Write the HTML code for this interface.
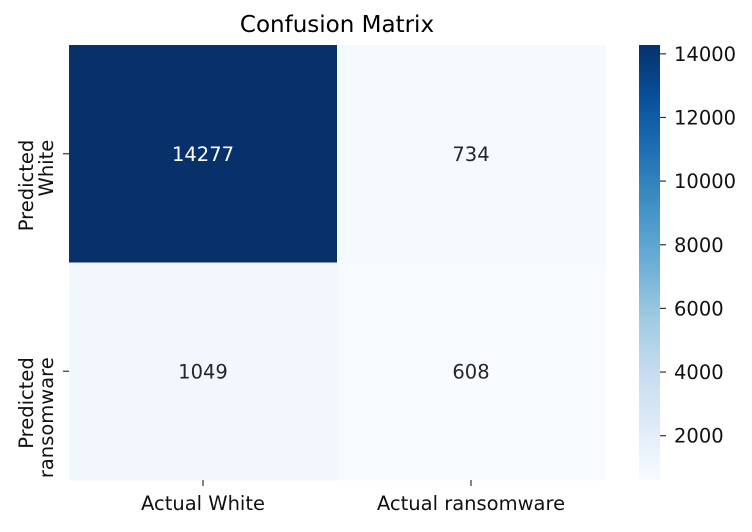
<!DOCTYPE html>
<html><head><meta charset="utf-8"><style>
body{margin:0;background:#fff;}
svg text{font-family:"DejaVu Sans","Liberation Sans",sans-serif;}
</style></head><body>
<svg id="chart" width="752" height="527" xmlns="http://www.w3.org/2000/svg">
<defs>
<linearGradient id="blues" x1="0" y1="1" x2="0" y2="0">
<stop offset="0" stop-color="#f7fbff"/><stop offset="0.125" stop-color="#deebf7"/>
<stop offset="0.25" stop-color="#c6dbef"/><stop offset="0.375" stop-color="#9ecae1"/>
<stop offset="0.5" stop-color="#6baed6"/><stop offset="0.625" stop-color="#4292c6"/>
<stop offset="0.75" stop-color="#2171b5"/><stop offset="0.875" stop-color="#08519c"/>
<stop offset="1" stop-color="#08306b"/>
</linearGradient>
</defs>
<text x="337" y="32" text-anchor="middle" font-size="23">Confusion Matrix</text>
<g id="cells"></g>
<rect x="639" y="45" width="21" height="435" fill="url(#blues)"/>
<g id="cbticks"></g>
<g id="axes"></g>
</svg>
<script>
const rowLabels=[["Predicted","White"],["Predicted","ransomware"]];
const colLabels=["Actual White","Actual ransomware"];
const values=[[14277,734],[1049,608]];
const cbTicks=[2000,4000,6000,8000,10000,12000,14000];

const NS="http://www.w3.org/2000/svg";
const svg=document.getElementById('chart');
const L=69,R=605,T=45,B=480;
const flat=values.flat();
const vmin=Math.min(...flat),vmax=Math.max(...flat);
const stops=["#f7fbff","#deebf7","#c6dbef","#9ecae1","#6baed6","#4292c6","#2171b5","#08519c","#08306b"];
function hex(h){return [1,3,5].map(i=>parseInt(h.substr(i,2),16));}
function color(v){let t=(v-vmin)/(vmax-vmin);t=Math.max(0,Math.min(1,t))*8;const i=Math.min(7,Math.floor(t)),f=t-i;const a=hex(stops[i]),b=hex(stops[i+1]);return `rgb(${a.map((x,k)=>Math.round(x+(b[k]-x)*f)).join(',')})`;}
function el(tag,attrs,parent,text){const e=document.createElementNS(NS,tag);for(const k in attrs)e.setAttribute(k,attrs[k]);if(text!==undefined)e.textContent=text;parent.appendChild(e);return e;}
const nr=values.length,nc=values[0].length;
const cw=(R-L)/nc,ch=(B-T)/nr;
const cells=document.getElementById('cells'),axes=document.getElementById('axes');
const FS='19.5';
values.forEach((row,i)=>row.forEach((v,j)=>{
  const r=el('rect',{x:L+j*cw,y:T+i*ch,width:cw+0.5,height:ch+0.5,fill:color(v)},cells);
  
  
  const t=(v-vmin)/(vmax-vmin);
  const tx=el('text',{x:L+(j+0.5)*cw,y:T+(i+0.5)*ch+7,'text-anchor':'middle','font-size':FS,fill:t>0.5?'#fff':'#262626'},cells,String(v));
  
  
}));
colLabels.forEach((lab,j)=>{
  const x=L+(j+0.5)*cw;
  el('line',{x1:x,x2:x,y1:B,y2:B+6,stroke:'#333','stroke-width':1.2},axes);
  const t=el('text',{x:x,y:B+30,'text-anchor':'middle','font-size':FS,fill:'#111'},axes,lab);
  
  
});
rowLabels.forEach((lab,i)=>{
  const y=T+(i+0.5)*ch;
  el('line',{x1:L-6,x2:L,y1:y,y2:y,stroke:'#333','stroke-width':1.2},axes);
  const g=el('text',{transform:`translate(52,${y}) rotate(-90)`,'text-anchor':'end','font-size':FS,fill:'#111'},axes);
  
  
  el('tspan',{x:14,y:-19},g,lab[0]);
  el('tspan',{x:14,y:1},g,lab[1]);
});
const cb=document.getElementById('cbticks');
cbTicks.forEach(v=>{
  const y=B-(v-vmin)/(vmax-vmin)*(B-T);
  el('line',{x1:660,x2:666,y1:y,y2:y,stroke:'#333','stroke-width':1.2},cb);
  const t=el('text',{x:674,y:y+7,'font-size':FS,fill:'#111'},cb,String(v));
  
  
});
</script>
</body></html>
